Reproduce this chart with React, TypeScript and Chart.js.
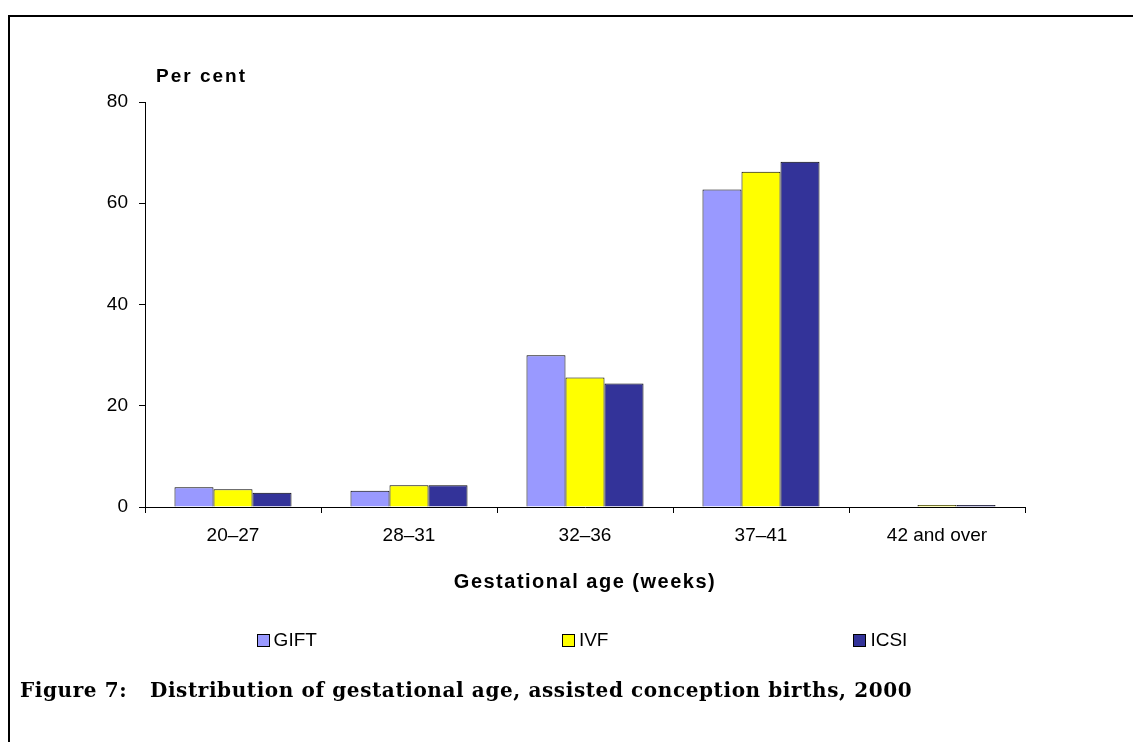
import React, { useEffect, useRef } from "react";
import { Chart, registerables } from "chart.js";

Chart.register(...registerables);

const categories = ["20–27", "28–31", "32–36", "37–41", "42 and over"];
const seriesNames = ["GIFT", "IVF", "ICSI"];
const giftValues = [3.9, 3.2, 30.0, 62.7, 0];
const ivfValues = [3.5, 4.3, 25.6, 66.2, 0.4];
const icsiValues = [2.8, 4.3, 24.4, 68.2, 0.4];
const seriesColors = ["#9999FF", "#FFFF00", "#333399"];
const yMin = 0;
const yMax = 80;
const yStep = 20;
const yAxisLabel = "Per cent";
const xAxisLabel = "Gestational age (weeks)";
const captionLead = "Figure 7:";
const captionText = "Distribution of gestational age, assisted conception births, 2000";

const SANS = "'Liberation Sans', Arial, sans-serif";

const annotationPlugin = {
  id: "annotationPlugin",
  afterDraw(chart: any) {
    const ctx = chart.ctx as CanvasRenderingContext2D;
    const a = chart.chartArea;
    ctx.save();
    ctx.fillStyle = "#000";
    // y axis label
    ctx.font = `bold 19px ${SANS}`;
    (ctx as any).letterSpacing = "2px";
    ctx.textBaseline = "middle";
    ctx.textAlign = "left";
    ctx.fillText(yAxisLabel, a.left + 11, 77);
    // x axis title
    ctx.font = `bold 20px ${SANS}`;
    (ctx as any).letterSpacing = "1.5px";
    ctx.textAlign = "center";
    ctx.fillText(xAxisLabel, (a.left + a.right) / 2, 582);
    // legend
    (ctx as any).letterSpacing = "0px";
    ctx.font = `19px ${SANS}`;
    ctx.textAlign = "left";
    const box = 13;
    const gap = 4;
    const sep = 245;
    const items = chart.data.datasets.map((ds: any) => ({
      label: ds.label,
      color: ds.backgroundColor,
      w: box + gap + ctx.measureText(ds.label).width,
    }));
    const total =
      items.reduce((s: number, it: any) => s + it.w, 0) + sep * (items.length - 1);
    let x = (a.left + a.right) / 2 - 3 - total / 2;
    const y = 640;
    for (const it of items) {
      const bx = Math.round(x);
      ctx.fillStyle = it.color;
      ctx.fillRect(bx, y - 6, box, box);
      ctx.strokeStyle = "#000";
      ctx.lineWidth = 1;
      ctx.strokeRect(bx + 0.5, y - 5.5, box - 1, box - 1);
      ctx.fillStyle = "#000";
      ctx.fillText(it.label, x + box + gap, y + 1);
      x += it.w + sep;
    }
    ctx.restore();
  },
};

export default function App() {
  const canvasRef = useRef<HTMLCanvasElement | null>(null);

  useEffect(() => {
    const canvas = canvasRef.current;
    if (!canvas) return;
    const datasets = [giftValues, ivfValues, icsiValues].map((vals, i) => ({
      label: seriesNames[i],
      data: vals,
      backgroundColor: seriesColors[i],
      borderColor: "#000",
      borderWidth: 1,
      categoryPercentage: 0.665,
      barPercentage: 1,
    }));
    const chart = new Chart(canvas, {
      type: "bar",
      data: { labels: categories, datasets },
      plugins: [annotationPlugin],
      options: {
        animation: false,
        responsive: false,
        devicePixelRatio: 1,
        layout: { padding: { left: 0, top: 102, right: 108, bottom: 0 } },
        plugins: {
          legend: { display: false },
          tooltip: { enabled: false },
          title: { display: false },
        },
        scales: {
          x: {
            type: "category",
            offset: true,
            grid: {
              offset: true,
              drawOnChartArea: false,
              drawTicks: true,
              tickLength: 6,
              color: "#000",
            },
            border: { color: "#000", width: 1 },
            ticks: {
              color: "#000",
              font: { family: SANS, size: 19 },
              padding: 11,
              maxRotation: 0,
              autoSkip: false,
            },
            afterFit(scale: any) {
              scale.height = 742 - 507;
            },
          },
          y: {
            min: yMin,
            max: yMax,
            grid: {
              drawOnChartArea: false,
              drawTicks: true,
              tickLength: 6,
              color: "#000",
            },
            border: { color: "#000", width: 1 },
            ticks: {
              stepSize: yStep,
              color: "#000",
              font: { family: SANS, size: 19 },
              padding: 11,
            },
            afterFit(scale: any) {
              scale.width = 145;
            },
          },
        },
      },
    });
    return () => chart.destroy();
  }, []);

  return (
    <div
      style={{
        position: "fixed",
        left: 0,
        top: 0,
        width: 1133,
        height: 742,
        overflow: "hidden",
        background: "#fff",
      }}
    >
      <div
        style={{
          position: "absolute",
          left: 8,
          top: 15,
          width: 1200,
          height: 800,
          borderTop: "2px solid #000",
          borderLeft: "2px solid #000",
          boxSizing: "border-box",
        }}
      />
      <canvas
        ref={canvasRef}
        width={1133}
        height={742}
        style={{ position: "absolute", left: 0, top: 0, width: 1133, height: 742 }}
      />
      <div
        style={{
          position: "absolute",
          left: 20,
          top: 677,
          font: "bold 20px 'DejaVu Serif', Georgia, serif",
          letterSpacing: "0.6px",
          lineHeight: "26px",
          whiteSpace: "pre",
          color: "#000",
        }}
      >
        {captionLead + "   " + captionText}
      </div>
    </div>
  );
}
